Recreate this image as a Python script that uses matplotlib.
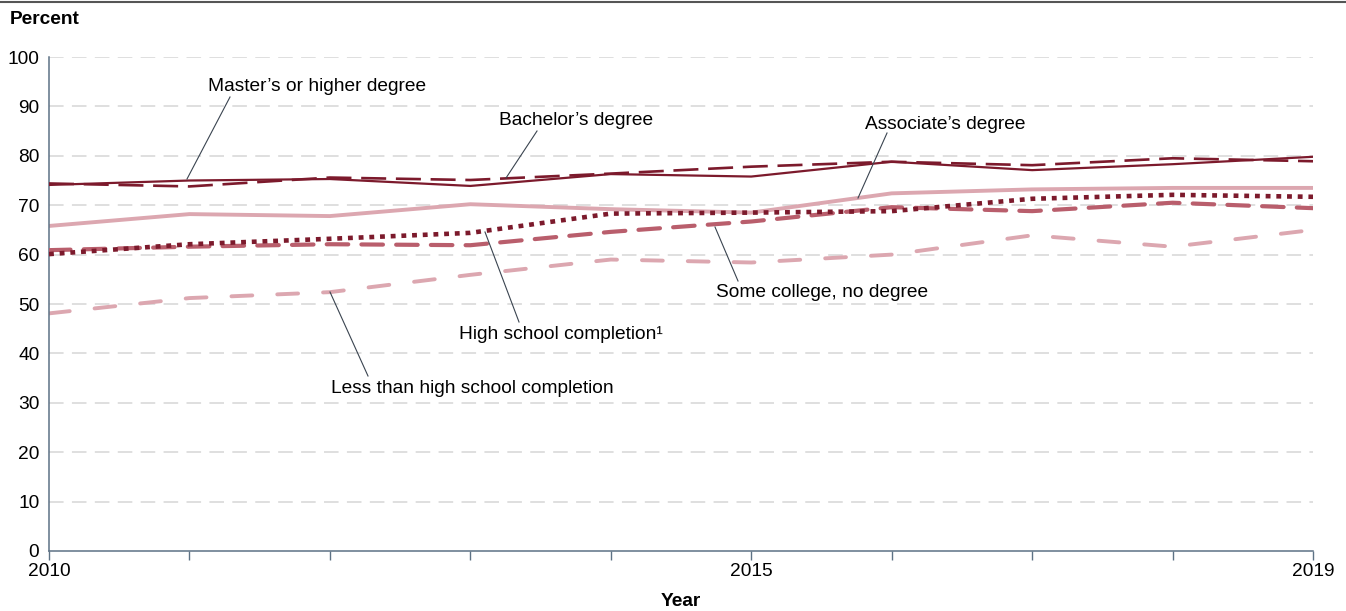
"""
Employment rates by educational attainment, 2010-2019
"""

import matplotlib

matplotlib.use("Agg")
import matplotlib.pyplot as plt
from matplotlib.lines import Line2D

matplotlib.rcParams["font.family"] = ["Liberation Sans", "DejaVu Sans"]
matplotlib.rcParams["lines.scale_dashes"] = False

years = [2010, 2011, 2012, 2013, 2014, 2015, 2016, 2017, 2018, 2019]
year_labels = {2010: "2010", 2015: "2015", 2019: "2019"}

masters = [74.1, 75.0, 75.3, 73.9, 76.3, 75.8, 78.8, 77.1, 78.3, 79.8]
bachelors = [74.4, 73.8, 75.6, 75.1, 76.4, 77.8, 78.8, 78.1, 79.5, 78.9]
associates = [65.8, 68.2, 67.8, 70.2, 69.2, 68.5, 72.4, 73.2, 73.5, 73.5]
high_school = [60.1, 62.1, 63.2, 64.4, 68.3, 68.5, 68.8, 71.3, 72.1, 71.7]
some_college = [60.9, 61.6, 62.1, 61.9, 64.6, 66.7, 69.6, 68.8, 70.5, 69.4]
less_than_hs = [48.1, 51.2, 52.4, 55.9, 59.0, 58.4, 60.0, 63.9, 61.6, 65.0]

dark = "#7c1a2c"
medium = "#b95e6c"
light = "#dca7b0"
axis_color = "#5d7285"
font_size = 13.8

figure = plt.figure(figsize=(13.46, 6.11), dpi=100)
axis = figure.add_axes([0.0364, 0.0982, 0.9391, 0.8085])

# grid drawn first so the series sit on top
for value in range(10, 101, 10):
    axis.axhline(value, color="#d6d6d6", linewidth=1.1, dashes=(10.5, 6), zorder=0)

axis.plot(years, less_than_hs, color=light, linewidth=2.8, dashes=(15, 18),
          dash_capstyle="round", zorder=2)
axis.plot(years, some_college, color=medium, linewidth=3.0, dashes=(15.5, 9.5),
          dash_capstyle="round", zorder=3)
axis.plot(years, high_school, color=dark, linewidth=3.3, dashes=(3.5, 4.2), zorder=3)
axis.plot(years, associates, color=light, linewidth=2.8, zorder=2)
axis.plot(years, bachelors, color=dark, linewidth=1.9, dashes=(18, 7), zorder=4)
axis.plot(years, masters, color=dark, linewidth=1.6, zorder=4)

axis.set_xlim(2010, 2019)
axis.set_ylim(0, 100)
axis.set_xticks(years)
axis.set_xticklabels([year_labels.get(year, "") for year in years])
axis.set_yticks(range(0, 101, 10))
axis.tick_params(axis="x", length=6.5, width=1, color=axis_color, pad=2, labelsize=font_size)
axis.tick_params(axis="y", length=0, pad=7, labelsize=font_size)
for side in ["top", "right"]:
    axis.spines[side].set_visible(False)
for side in ["left", "bottom"]:
    axis.spines[side].set_color(axis_color)
    axis.spines[side].set_linewidth(1.1)


def to_axis(x_pixel, y_pixel):
    """Pixel position in the 1346x611 picture -> data coordinates."""
    year = 2010 + (x_pixel - 49) / (1313 - 49) * 9
    value = (551 - y_pixel) / (551 - 57) * 100
    return year, value


labels = [
    ("Master\u2019s or higher degree", (317, 86), (230, 97), (187, 179)),
    ("Bachelor\u2019s degree", (576, 120), (537, 131), (506, 178)),
    ("Associate\u2019s degree", (945, 124), (887, 133), (858, 198)),
    ("Some college, no degree", (822, 292), (738, 281), (715, 227)),
    ("High school completion\u00b9", (561, 334), (519, 322), (485, 232)),
    ("Less than high school completion", (472, 388), (368, 376), (330, 292)),
]
for text, text_pixel, start_pixel, end_pixel in labels:
    axis.text(*to_axis(*text_pixel), text, ha="center", va="center", fontsize=font_size)
    start = to_axis(*start_pixel)
    end = to_axis(*end_pixel)
    axis.plot(
        [start[0], end[0]],
        [start[1], end[1]],
        color="#3a4450",
        linewidth=0.8,
        zorder=5,
        clip_on=False,
    )

figure.text(10 / 1346, 1 - 20 / 611, "Percent", fontsize=font_size, fontweight="bold", va="center")
figure.text(681 / 1346, 1 - 602 / 611, "Year", fontsize=font_size, fontweight="bold",
            ha="center", va="center")
figure.add_artist(
    Line2D([0, 1], [1 - 1.5 / 611, 1 - 1.5 / 611], color="#555555", linewidth=1.5,
           transform=figure.transFigure)
)

figure.savefig("out.png", dpi=100)
plt.close()
